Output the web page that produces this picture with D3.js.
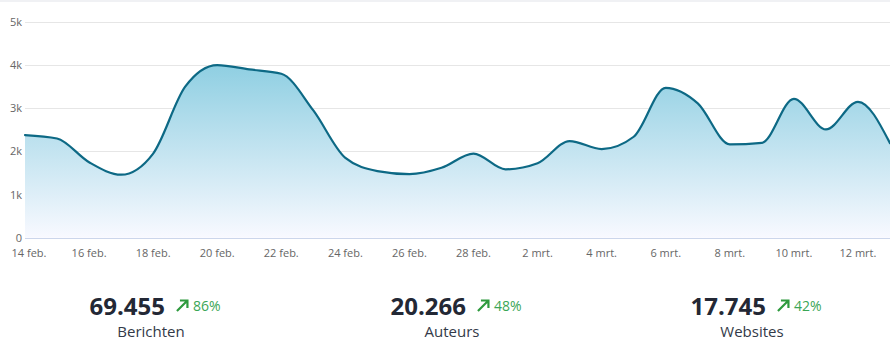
<!DOCTYPE html>
<html>
<head>
<meta charset="utf-8">
<script src="https://cdn.jsdelivr.net/npm/d3@7"></script>
<style>
  html, body { margin: 0; padding: 0; background: #ffffff; }
  svg { display: block; font-family: "Open Sans", sans-serif; }
</style>
</head>
<body>
<svg id="chart" width="890" height="363"></svg>
<script>
// ---- data ----
const startDate = "2023-02-14";
const values = [2380, 2300, 1750, 1460, 1950, 3500, 4000, 3900, 3800, 2950,
                1850, 1545, 1475, 1620, 1950, 1585, 1725, 2240, 2055, 2340,
                3475, 3115, 2165, 2200, 3220, 2510, 3150, 2190];
const yTicks = [0, 1000, 2000, 3000, 4000, 5000];
const yTickLabels = ["0", "1k", "2k", "3k", "4k", "5k"];
const monthNames = ["jan.", "feb.", "mrt.", "apr.", "mei", "jun.", "jul.", "aug.", "sep.", "okt.", "nov.", "dec."];
const statValues = ["69.455", "20.266", "17.745"];
const statChanges = ["86%", "48%", "42%"];
const statLabels = ["Berichten", "Auteurs", "Websites"];

// ---- setup ----
const svg = d3.select("#chart");
const W = 890, H = 363;
const margin = { left: 25, right: 0, top: 22, bottom: 125 };
const plotBottom = 237.7, plotTop = 22;

const parse = d3.utcParse("%Y-%m-%d");
const d0 = parse(startDate);
const data = values.map((v, i) => ({ date: d3.utcDay.offset(d0, i), value: v }));

const x = d3.scaleUtc()
  .domain([data[0].date, data[data.length - 1].date])
  .range([25, 890]);
const y = d3.scaleLinear().domain([0, 5000]).range([plotBottom, plotTop]);

// top band
svg.append("rect").attr("x", 0).attr("y", 0).attr("width", W).attr("height", 2).attr("fill", "#f0f1f4");

// gradient
const defs = svg.append("defs");
const grad = defs.append("linearGradient")
  .attr("id", "areaGrad").attr("x1", 0).attr("y1", 0).attr("x2", 0).attr("y2", 1)
  .attr("gradientUnits", "userSpaceOnUse")
  .attr("x1", 0).attr("x2", 0).attr("y1", y(4000)).attr("y2", plotBottom);
grad.append("stop").attr("offset", "0%").attr("stop-color", "#8fcfe2");
grad.append("stop").attr("offset", "55%").attr("stop-color", "#c9e6f2");
grad.append("stop").attr("offset", "100%").attr("stop-color", "#f8f9ff");

// grid lines
svg.append("g").selectAll("line").data(yTicks.slice(1)).join("line")
  .attr("x1", 25).attr("x2", W)
  .attr("y1", d => Math.round(y(d)) + 0.5).attr("y2", d => Math.round(y(d)) + 0.5)
  .attr("stroke", "#e6e6e6").attr("stroke-width", 1);

// y labels
svg.append("g").selectAll("text").data(yTicks).join("text")
  .attr("x", 22).attr("y", d => y(d) + 4)
  .attr("text-anchor", "end")
  .attr("font-size", 11).attr("fill", "#666666")
  .text((d, i) => yTickLabels[i]);

// area + line
const curve = d3.curveMonotoneX;
const area = d3.area().x(d => x(d.date)).y0(plotBottom).y1(d => y(d.value)).curve(curve);
const line = d3.line().x(d => x(d.date)).y(d => y(d.value)).curve(curve);

svg.append("path").datum(data).attr("d", area).attr("fill", "url(#areaGrad)");
svg.append("path").datum(data).attr("d", line)
  .attr("fill", "none").attr("stroke", "#0d6985").attr("stroke-width", 2.2)
  .attr("stroke-linejoin", "round").attr("stroke-linecap", "round");

// x axis baseline
svg.append("line").attr("x1", 25).attr("x2", W)
  .attr("y1", Math.round(plotBottom) + 0.5).attr("y2", Math.round(plotBottom) + 0.5)
  .attr("stroke", "#ccd6eb").attr("stroke-width", 1);

// x labels every 2 days
const xTickDates = data.filter((d, i) => i % 2 === 0 && i < 27).map(d => d.date);
svg.append("g").selectAll("text").data(xTickDates).join("text")
  .attr("x", (d, i) => i === 0 ? x(d) + 4 : x(d))
  .attr("y", 257)
  .attr("text-anchor", "middle")
  .attr("font-size", 11).attr("fill", "#666666")
  .text(d => d.getUTCDate() + " " + monthNames[d.getUTCMonth()]);

// ---- stats ----
const centers = [151, 452, 752];
statValues.forEach((val, i) => {
  const g = svg.append("g");
  const num = g.append("text").attr("x", 0).attr("y", 315)
    .attr("font-size", 24).attr("font-weight", 700).attr("fill", "#232835")
    .text(val);
  const nw = num.node().getComputedTextLength();
  const ax = nw + 12;
  g.append("path")
    .attr("d", `M${ax},${311} L${ax + 10},${301} M${ax + 3},${300.5} L${ax + 10.5},${300.5} L${ax + 10.5},${308}`)
    .attr("fill", "none").attr("stroke", "#2e9a3e").attr("stroke-width", 2.2)
    .attr("stroke-linecap", "butt");
  const pct = g.append("text").attr("x", ax + 16).attr("y", 311)
    .attr("font-size", 14).attr("fill", "#3aa655")
    .text(statChanges[i]);
  const total = ax + 16 + pct.node().getComputedTextLength();
  g.attr("transform", `translate(${centers[i] + 4 - total / 2},0)`);

  svg.append("text").attr("x", centers[i]).attr("y", 337)
    .attr("text-anchor", "middle")
    .attr("font-size", 15).attr("fill", "#333a48")
    .text(statLabels[i]);
});
</script>
</body>
</html>
